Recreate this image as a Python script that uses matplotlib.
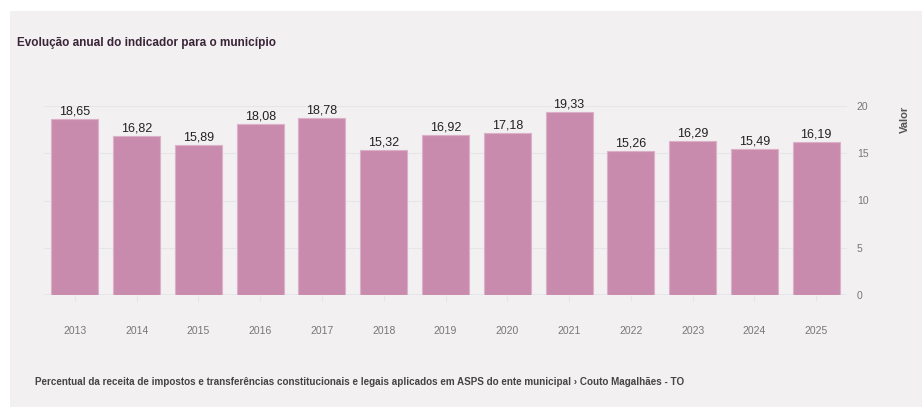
import matplotlib.pyplot as plt
from matplotlib.patches import Rectangle

anos = ["2013", "2014", "2015", "2016", "2017", "2018", "2019",
        "2020", "2021", "2022", "2023", "2024", "2025"]
valores = [18.65, 16.82, 15.89, 18.08, 18.78, 15.32, 16.92,
           17.18, 19.33, 15.26, 16.29, 15.49, 16.19]
yticks = [0, 5, 10, 15, 20]

titulo = "Evolução anual do indicador para o município"
rodape = ("Percentual da receita de impostos e transferências constitucionais e legais "
          "aplicados em ASPS do ente municipal \u203a Couto Magalhães - TO")

plt.rcParams["font.family"] = ["Liberation Sans", "DejaVu Sans"]

fundo = "#f2f0f1"
cor_barra = "#c98bad"

W, H = 922, 407
fig = plt.figure(figsize=(W / 100, H / 100), dpi=100)
fig.patch.set_facecolor("white")
# painel cinza claro atrás de tudo
fig.patches.append(Rectangle((10 / W, 0), 1 - 10 / W, 1 - 11 / H,
                             transform=fig.transFigure, facecolor=fundo,
                             edgecolor="none", zorder=-1))

ax = fig.add_axes([44 / W, 1 - 295 / H, 803 / W, 189 / H])
ax.set_facecolor(fundo)
x = range(len(anos))
bars = ax.bar(x, valores, width=0.76, color=cor_barra,
              edgecolor="#dcb0c8", linewidth=0.8, zorder=2)
for xi, v in zip(x, valores):
    ax.text(xi, v + 0.15, f"{v:.2f}".replace(".", ","), ha="center", va="bottom",
            fontsize=9, color="#222222", zorder=3)

ax.set_xlim(-0.5, len(anos) - 0.5)
ax.set_ylim(0, 20)
ax.set_yticks(yticks)
ax.set_yticklabels([str(t) for t in yticks])
ax.yaxis.tick_right()
ax.grid(axis="y", color="#e6e6ea", linewidth=0.8, zorder=0)
for s in ax.spines.values():
    s.set_visible(False)
ax.axhline(0, color="#e2e6ec", linewidth=1.2, zorder=1)
ax.tick_params(axis="y", length=0, pad=7, labelsize=7.5, labelcolor="#777777")
ax.set_xticks(list(x))
ax.set_xticklabels(anos)
ax.tick_params(axis="x", length=4, color="#e6e6ea", pad=18,
               labelsize=7.5, labelcolor="#777777")

fig.text(905 / W, 1 - 106 / H, "Valor", rotation=90, ha="center", va="top",
         fontsize=8, fontweight="bold", color="#555555")
fig.text(17 / W, 1 - 43 / H, titulo, ha="left", va="center",
         fontsize=8.45, fontweight="bold", color="#3a2438")
fig.text(35 / W, 1 - 382 / H, rodape, ha="left", va="center",
         fontsize=7.1, fontweight="bold", color="#444444")

fig.savefig("out.png", dpi=100, facecolor=fig.get_facecolor())
